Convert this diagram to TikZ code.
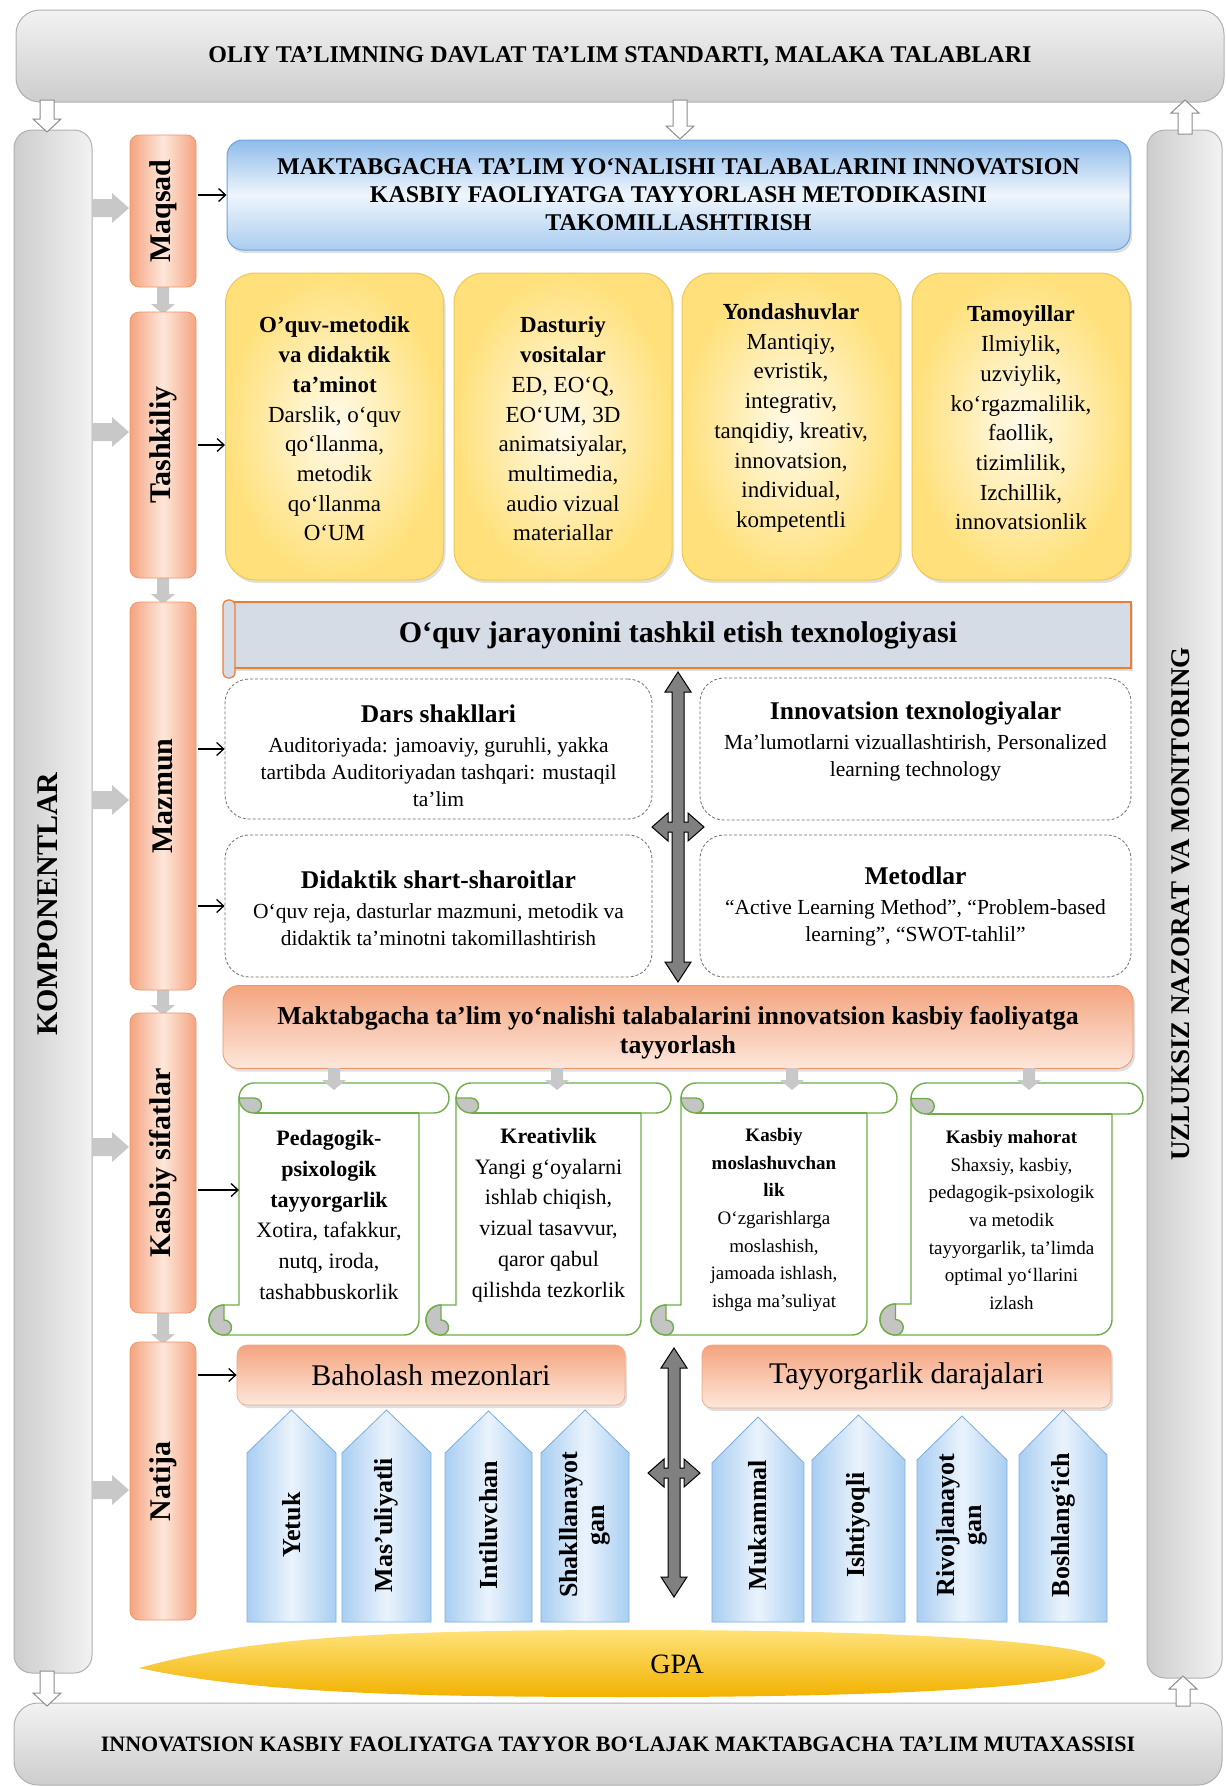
\documentclass[tikz,border=0pt]{standalone}
\usepackage{fontspec}
\setmainfont{Liberation Serif}
\usetikzlibrary{calc,shadows,arrows.meta}
\definecolor{barL}{HTML}{F2F2F2}
\definecolor{barD}{HTML}{CDCDCD}
\definecolor{barB}{HTML}{B0B0B0}
\definecolor{orE}{HTML}{F4A47F}
\definecolor{orC}{HTML}{FDE7DB}
\definecolor{orB}{HTML}{EE9468}
\definecolor{blT}{HTML}{8FBCEB}
\definecolor{blC}{HTML}{EEF5FC}
\definecolor{blB}{HTML}{6FA3DC}
\definecolor{yeO}{HTML}{FFE07A}
\definecolor{yeI}{HTML}{FFFBEC}
\definecolor{yeB}{HTML}{F0C850}
\definecolor{hdF}{HTML}{D6DCE5}
\definecolor{hdB}{HTML}{ED7D31}
\definecolor{dashC}{HTML}{6E6E6E}
\definecolor{grn}{HTML}{70AD47}
\definecolor{curl}{HTML}{C4C4C4}
\definecolor{pbE}{HTML}{A9CEF2}
\definecolor{pbC}{HTML}{EAF3FC}
\definecolor{pbB}{HTML}{7FAEDD}
\definecolor{goldT}{HTML}{FFE27A}
\definecolor{goldB}{HTML}{F2B200}
\definecolor{fatG}{HTML}{808080}
\definecolor{blkG}{HTML}{C8C8C8}

\newcommand{\myfs}[2]{\fontsize{#1}{#2}\selectfont}

% fat cross double arrow: cx y1 y2 hy hw
\newcommand{\xcross}[5]{%
 \filldraw[fatarrow]
 ({#1},{#2}) -- ({#1+13},{#2+20}) -- ({#1+6},{#2+20}) -- ({#1+6},{#4-5}) -- ({#1+#5-16},{#4-5}) -- ({#1+#5-16},{#4-14}) -- ({#1+#5},{#4}) -- ({#1+#5-16},{#4+14}) -- ({#1+#5-16},{#4+5}) -- ({#1+6},{#4+5}) -- ({#1+6},{#3-20}) -- ({#1+13},{#3-20}) -- ({#1},{#3}) -- ({#1-13},{#3-20}) -- ({#1-6},{#3-20}) -- ({#1-6},{#4+5}) -- ({#1-#5+16},{#4+5}) -- ({#1-#5+16},{#4+14}) -- ({#1-#5},{#4}) -- ({#1-#5+16},{#4-14}) -- ({#1-#5+16},{#4-5}) -- ({#1-6},{#4-5}) -- ({#1-6},{#2+20}) -- ({#1-13},{#2+20}) -- cycle;}
% right block arrow: x1 x2 y
\newcommand{\rblk}[3]{%
 \fill[blockarr] ({#1},{#3-9}) -- ({#2-17},{#3-9}) -- ({#2-17},{#3-15}) -- ({#2},{#3}) -- ({#2-17},{#3+15}) -- ({#2-17},{#3+9}) -- ({#1},{#3+9}) -- cycle;}
% down block arrow: x y1 y2
\newcommand{\dblk}[3]{%
 \fill[blockarr] ({#1-6},{#2}) -- ({#1+6},{#2}) -- ({#1+6},{#3-10}) -- ({#1+12},{#3-10}) -- ({#1},{#3}) -- ({#1-12},{#3-10}) -- ({#1-6},{#3-10}) -- cycle;}
% hollow arrows
\newcommand{\hdown}[3]{%
 \draw[hollowarr] ({#1-7},{#2}) -- ({#1+7},{#2}) -- ({#1+7},{#3-13}) -- ({#1+14},{#3-13}) -- ({#1},{#3}) -- ({#1-14},{#3-13}) -- ({#1-7},{#3-13}) -- cycle;}
\newcommand{\hup}[3]{%
 \draw[hollowarr] ({#1-7},{#2}) -- ({#1+7},{#2}) -- ({#1+7},{#3+13}) -- ({#1+14},{#3+13}) -- ({#1},{#3}) -- ({#1-14},{#3+13}) -- ({#1-7},{#3+13}) -- cycle;}
% scroll: a b W H c
\newcommand{\myscroll}[5]{%
  \pgfmathsetmacro\scA{#1}\pgfmathsetmacro\scB{#2}\pgfmathsetmacro\scW{#3}%
  \pgfmathsetmacro\scH{#4}\pgfmathsetmacro\scC{#5}\pgfmathsetmacro\sch{#5/2}%
  \draw[scrollline, fill=white]
   ({\scA+\scC+\sch},{\scB}) -- ({\scA+\scW-\sch},{\scB})
   arc[start angle=-90,end angle=90,radius=\sch]
   -- ({\scA+\scW-\scC},{\scB+\scC})
   -- ({\scA+\scW-\scC},{\scB+\scH-\sch})
   arc[start angle=0,end angle=90,radius=\sch]
   -- ({\scA+\sch},{\scB+\scH})
   arc[start angle=90,end angle=270,radius=\sch]
   -- ({\scA+\scC},{\scB+\scH-\scC})
   -- ({\scA+\scC},{\scB+\sch})
   arc[start angle=180,end angle=270,radius=\sch]
   -- cycle;
  \draw[scrollline] ({\scA+\scC+\sch},{\scB+\scC}) -- ({\scA+\scW-\scC},{\scB+\scC});
  \draw[scrollline, fill=curl] ({\scA+\scC},{\scB+\sch}) arc[start angle=180,end angle=90,radius=\sch] arc[start angle=90,end angle=-90,radius=\sch/2] -- cycle;
  \draw[scrollline, fill=curl] ({\scA+\sch},{\scB+\scH-\scC}) arc[start angle=270,end angle=90,radius=\sch] arc[start angle=90,end angle=-90,radius=\sch/2] -- cycle;
}
% pentagon arrow: name x1 x2 tip shoulder bottom text
\newcommand{\mypent}[7]{%
  \draw[pentstyle] ({#2},{#6}) -- ({#2},{#5}) -- ({(#2+#3)/2},{#4}) -- ({#3},{#5}) -- ({#3},{#6}) -- cycle;
  \node[penttext] (#1) at ({(#2+#3)/2},1525) {#7};}

\begin{document}
\begin{tikzpicture}[x=1pt,y=-1pt,
  graybar/.style={draw=barB, line width=1pt, top color=barL, bottom color=barD, rounded corners=24pt, inner sep=0pt},
  graycol/.style={draw=barB, line width=1pt, left color=barD, right color=barL, rounded corners=18pt, inner sep=0pt},
  rowbox/.style={draw=orB, line width=0.7pt, left color=orE, right color=orE, middle color=orC, rounded corners=9pt, minimum width=66pt, inner sep=0pt},
  rowtext/.style={rotate=90, font=\myfs{30}{32}\bfseries, inner sep=0pt},
  coltext/.style={rotate=90, font=\myfs{27}{30}\bfseries, inner sep=0pt},
  shadowed/.style={drop shadow={opacity=0.25, shadow xshift=2pt, shadow yshift=-3pt}},
  ybox/.style={draw=yeB, line width=1pt, inner color=yeI, outer color=yeO, rounded corners=30pt, minimum width=218pt, minimum height=307pt, inner sep=0pt, shadowed},
  ytext/.style={align=center, font=\myfs{23}{29.7}, inner sep=0pt},
  dbox/.style={draw=dashC, line width=0.8pt, dash pattern=on 3pt off 2pt, fill=white, rounded corners=24pt, inner sep=0pt},
  dtext/.style={align=center, font=\myfs{21.5}{27}, inner sep=0pt},
  stext/.style={align=center, font=\myfs{22}{30.8}, inner sep=0pt},
  sstext/.style={align=center, font=\myfs{19}{27.7}, inner sep=0pt},
  nbox/.style={draw=orB!80, line width=0.7pt, top color=orE, bottom color=orC, rounded corners=10pt, inner sep=0pt, font=\myfs{30}{32}, shadowed},
  pentstyle/.style={draw=pbB, line width=0.8pt, left color=pbE, right color=pbE, middle color=pbC},
  penttext/.style={rotate=90, align=center, font=\myfs{26}{27}\bfseries, inner sep=0pt},
  scrollline/.style={draw=grn, line width=1.4pt},
  thinarr/.style={-{Straight Barb[length=7pt,width=13pt]}, line width=1.3pt, black, shorten <=2pt},
  fatarrow/.style={fill=fatG, draw=black, line width=1pt},
  blockarr/.style={fill=blkG, draw=none},
  hollowarr/.style={fill=white, draw=barB!80!black, line width=1pt},
]
\useasboundingbox (0,0) rectangle (1226,1786);
\fill[white] (0,0) rectangle (1226,1786);

% ---------- frame ----------
\node[graybar, minimum width=1208pt, minimum height=92pt, font=\myfs{24}{26}\bfseries] (topbar) at (620,56) {OLIY TA’LIMNING DAVLAT TA’LIM STANDARTI, MALAKA TALABLARI};
\node[graybar, minimum width=1208pt, minimum height=82pt, font=\myfs{22}{24}\bfseries] (botbar) at (618,1744) {INNOVATSION KASBIY FAOLIYATGA TAYYOR BO‘LAJAK MAKTABGACHA TA’LIM MUTAXASSISI};
\node[graycol, minimum width=78pt, minimum height=1543pt] (lcol) at (53,901.5) {};
\node[coltext, font=\myfs{30}{32}\bfseries] (ltext) at (48,904) {KOMPONENTLAR};
\node[graycol, minimum width=75pt, minimum height=1548pt] (rcol) at (1184.5,904) {};
\node[coltext] (rtext) at (1181,904) {UZLUKSIZ NAZORAT VA MONITORING};

\hdown{47}{100}{132}
\hdown{680}{100}{139}
\hup{1185}{134}{100}
\hdown{47}{1671}{1706}
\hup{1183}{1706}{1676}

% ---------- block arrows from left column ----------
\rblk{92}{129}{208}
\rblk{92}{129}{432}
\rblk{92}{129}{800}
\rblk{92}{129}{1147}
\rblk{92}{129}{1490}
\dblk{163}{284}{314}
\dblk{163}{575}{604}
\dblk{163}{987}{1015}
\dblk{163}{1310}{1344}

% ---------- row labels ----------
\node[rowbox, minimum height=152pt] (maq) at (163,211) {};
\node[rowtext] (maqT) at (maq) {Maqsad};
\node[rowbox, minimum height=266pt] (tash) at (163,445) {};
\node[rowtext] (tashT) at (tash) {Tashkiliy};
\node[rowbox, minimum height=388pt] (maz) at (163,796) {};
\node[rowtext] (mazT) at (maz) {Mazmun};
\node[rowbox, minimum height=300pt] (kas) at (163,1163) {};
\node[rowtext] (kasT) at (kas) {Kasbiy sifatlar};
\node[rowbox, minimum height=278pt] (nat) at (163,1481) {};
\node[rowtext] (natT) at (nat) {Natija};

% ---------- Maqsad ----------
\node[draw=blB, line width=1pt, top color=blT, bottom color=blT!75!white, middle color=blC, rounded corners=16pt, minimum width=903pt, minimum height=110pt, inner sep=0pt, align=center, font=\myfs{24}{28}\bfseries, shadowed] (goal) at (678.5,195) {MAKTABGACHA TA’LIM YO‘NALISHI TALABALARINI INNOVATSION\\KASBIY FAOLIYATGA TAYYORLASH METODIKASINI\\TAKOMILLASHTIRISH};

% ---------- Tashkiliy ----------
\node[ybox] (yb1) at (334.5,426.5) {};
\node[ybox] (yb2) at (563,426.5) {};
\node[ybox] (yb3) at (791,426.5) {};
\node[ybox] (yb4) at (1021,426.5) {};
\node[ytext] (yt1) at (334.5,429) {\textbf{O’quv-metodik}\\\textbf{va didaktik}\\\textbf{ta’minot}\\Darslik, o‘quv\\qo‘llanma,\\metodik\\qo‘llanma\\O‘UM};
\node[ytext] (yt2) at (563,429) {\textbf{Dasturiy}\\\textbf{vositalar}\\ED, EO‘Q,\\EO‘UM, 3D\\animatsiyalar,\\multimedia,\\audio vizual\\materiallar};
\node[ytext] (yt3) at (791,418) {\textbf{Yondashuvlar}\\Mantiqiy,\\evristik,\\integrativ,\\tanqidiy, kreativ,\\innovatsion,\\individual,\\kompetentli};
\node[ytext] (yt4) at (1021,418) {\textbf{Tamoyillar}\\Ilmiylik,\\uzviylik,\\ko‘rgazmalilik,\\faollik,\\tizimlilik,\\Izchillik,\\innovatsionlik};

% ---------- Mazmun ----------
\node[draw=hdB, fill=hdF, line width=1.5pt, minimum width=906pt, minimum height=66pt, inner sep=0pt, font=\myfs{30}{32}\bfseries, shadowed] (hdr) at (678,635) {O‘quv jarayonini tashkil etish texnologiyasi};
\draw[draw=hdB, fill=hdF, line width=1.2pt, rounded corners=5pt] (223,600) rectangle (235,678);
\node[dbox, minimum width=427pt, minimum height=140pt] (ds1) at (438.5,749) {};
\node[dbox, minimum width=431pt, minimum height=142pt] (ds3) at (915.5,749) {};
\node[dbox, minimum width=427pt, minimum height=142pt] (ds2) at (438.5,906) {};
\node[dbox, minimum width=431pt, minimum height=142pt] (ds4) at (915.5,906) {};
\node[dtext] (dt1) at (438.5,756) {{\myfs{25.5}{27}\bfseries Dars shakllari}\\[3pt]Auditoriyada: jamoaviy, guruhli, yakka\\tartibda Auditoriyadan tashqari: mustaqil\\ta’lim};
\node[dtext] (dt2) at (438.5,908) {{\myfs{25.5}{27}\bfseries Didaktik shart-sharoitlar}\\[3pt]O‘quv reja, dasturlar mazmuni, metodik va\\didaktik ta’minotni takomillashtirish};
\node[dtext] (dt3) at (915.5,741) {{\myfs{25.5}{27}\bfseries Innovatsion texnologiyalar}\\[3pt]Ma’lumotlarni vizuallashtirish, Personalized\\learning technology};
\node[dtext] (dt4) at (915.5,906) {{\myfs{25.5}{27}\bfseries Metodlar}\\[3pt]“Active Learning Method”, “Problem-based\\learning”, “SWOT-tahlil”};
\xcross{678}{672}{982}{827}{26}

% ---------- Kasbiy sifatlar ----------
\node[draw=orB, line width=0.8pt, top color=orE, bottom color=orC, rounded corners=16pt, minimum width=910pt, minimum height=83pt, inner sep=0pt, shadowed] (kban) at (678,1027) {};
\node[align=center, font=\myfs{25.8}{29}\bfseries, inner sep=0pt] (kbanT) at (678,1033) {Maktabgacha ta’lim yo‘nalishi talabalarini innovatsion kasbiy faoliyatga\\tayyorlash};
\myscroll{209}{1083}{240}{252}{30}
\myscroll{426}{1083}{245}{252}{30}
\myscroll{651}{1083}{246}{252}{30}
\myscroll{880}{1083}{263}{252}{31}
\dblk{334}{1068}{1090}
\dblk{557}{1068}{1090}
\dblk{792}{1068}{1090}
\dblk{1029}{1068}{1090}
\node[stext] (st1) at (329,1215) {\textbf{Pedagogik-}\\\textbf{psixologik}\\\textbf{tayyorgarlik}\\Xotira, tafakkur,\\nutq, iroda,\\tashabbuskorlik};
\node[stext] (st2) at (548.5,1215) {\textbf{Kreativlik}\\Yangi g‘oyalarni\\ishlab chiqish,\\vizual tasavvur,\\qaror qabul\\qilishda tezkorlik};
\node[sstext] (st3) at (774,1220) {\textbf{Kasbiy}\\\textbf{moslashuvchan}\\\textbf{lik}\\O‘zgarishlarga\\moslashish,\\jamoada ishlash,\\ishga ma’suliyat};
\node[sstext] (st4) at (1011.5,1220) {\textbf{Kasbiy mahorat}\\Shaxsiy, kasbiy,\\pedagogik-psixologik\\va metodik\\tayyorgarlik, ta’limda\\optimal yo‘llarini\\izlash};
\coordinate (sc1w) at (239,1190);

% ---------- Natija ----------
\node[nbox, minimum width=388pt, minimum height=60pt] (bah) at (431,1375) {Baholash mezonlari};
\node[nbox, minimum width=409pt, minimum height=63pt] (tay) at (906.5,1376.5) {Tayyorgarlik darajalari};
\mypent{p1}{247}{336}{1410}{1453}{1622}{Yetuk}
\mypent{p2}{342}{431}{1410}{1453}{1622}{Mas’uliyatli}
\mypent{p3}{445}{532}{1411}{1453}{1622}{Intiluvchan}
\mypent{p4}{541}{629}{1410}{1453}{1622}{Shakllanayot\\gan}
\mypent{p5}{712}{804}{1417}{1463}{1622}{Mukammal}
\mypent{p6}{812}{905}{1415}{1460}{1622}{Ishtiyoqli}
\mypent{p7}{917}{1007}{1416}{1460}{1622}{Rivojlanayot\\gan}
\mypent{p8}{1019}{1107}{1410}{1455}{1622}{Boshlang‘ich}
\xcross{674}{1348}{1597}{1473}{26}
\shade[top color=goldT, bottom color=goldB] (139,1668) .. controls (260,1634) and (420,1630) .. (640,1630) .. controls (900,1630) and (1105,1642) .. (1105,1663) .. controls (1105,1686) and (900,1697) .. (640,1697) .. controls (420,1697) and (260,1694) .. (139,1668) -- cycle;
\node[font=\myfs{28}{30}, inner sep=0pt] (gpa) at (677,1664) {GPA};

% ---------- thin arrows ----------
\draw[thinarr] (maq.east |- goal.west) -- (goal.west);
\draw[thinarr] (tash.east) -- (tash.east -| yb1.west);
\draw[thinarr] (maz.east |- ds1.west) -- (ds1.west);
\draw[thinarr] (maz.east |- ds2.west) -- (ds2.west);
\draw[thinarr] (kas.east |- sc1w) -- (sc1w);
\draw[thinarr] (nat.east |- bah.west) -- (bah.west);
\end{tikzpicture}
\end{document}
